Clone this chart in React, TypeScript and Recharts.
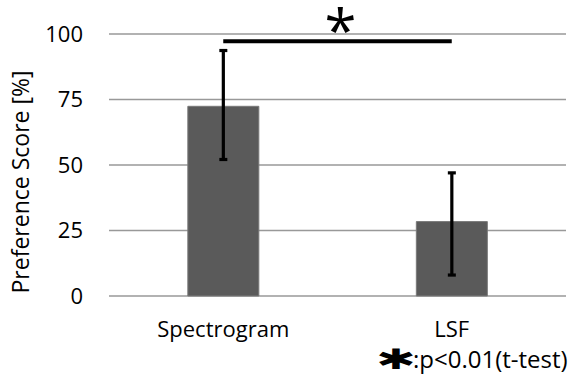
import React from 'react';
import { BarChart, Bar, XAxis, YAxis, CartesianGrid, ErrorBar, ReferenceLine } from 'recharts';

const categories = ['Spectrogram', 'LSF'];
const scores = [72.4, 28.4];
const errLow = [20.3, 20.4];
const errHigh = [21.3, 18.6];
const yTicks = [0, 25, 50, 75, 100];
const sigLevel = 97.2;

const data = categories.map((c, i) => ({ name: c, score: scores[i], err: [errLow[i], errHigh[i]] }));

const FONT = '"Open Sans", sans-serif';

const StarLabel = (props: any) => {
  const { viewBox } = props;
  const cx = viewBox.x + viewBox.width / 2 + 3;
  return (
    <text x={cx} y={viewBox.y + 11} textAnchor="middle" fontFamily={FONT} fontSize={58} fill="#000">*</text>
  );
};

export default function App() {
  return (
    <div style={{ position: 'absolute', left: 0, top: 0, width: 569, height: 376, background: '#fff' }}>
      <BarChart width={569} height={376} data={data} margin={{ top: 34, right: 3, left: 0, bottom: 50 }} barCategoryGap="34.5%">
        <CartesianGrid vertical={false} stroke="#999" strokeWidth={1.3} />
        <XAxis dataKey="name" axisLine={false} tickLine={false} tickSize={0} tickMargin={25} height={30}
          tick={{ fontFamily: FONT, fontSize: 22, fill: '#000' }} interval={0} />
        <YAxis domain={[0, 100]} ticks={yTicks} axisLine={false} tickLine={false} tickSize={0} tickMargin={26} width={109}
          tick={{ fontFamily: FONT, fontSize: 22, fill: '#000' }} />
        <Bar dataKey="score" fill="#5a5a5a" stroke="#7a7a7a" strokeWidth={1} isAnimationActive={false}>
          <ErrorBar dataKey="err" width={4} strokeWidth={3.2} stroke="#000" direction="y" />
        </Bar>
        <ReferenceLine segment={[{ x: 'Spectrogram', y: sigLevel }, { x: 'LSF', y: sigLevel }]} stroke="#000" strokeWidth={4}
          label={<StarLabel />} ifOverflow="visible" />
      </BarChart>
      <svg width={569} height={376} style={{ position: 'absolute', left: 0, top: 0, pointerEvents: 'none' }}>
        <text transform="translate(29,182) rotate(-90)" textAnchor="middle" fontFamily={FONT} fontSize={23} fill="#000">Preference Score [%]</text>
        <text transform="translate(396,369) scale(1.7,1)" textAnchor="middle" fontFamily="DejaVu Sans" fontSize={28} fontWeight="bold" fill="#000">✱</text>
        <text x={413} y={368} textAnchor="start" fontFamily={FONT} fontSize={24} fill="#000">:p&lt;0.01(t-test)</text>
      </svg>
    </div>
  );
}
